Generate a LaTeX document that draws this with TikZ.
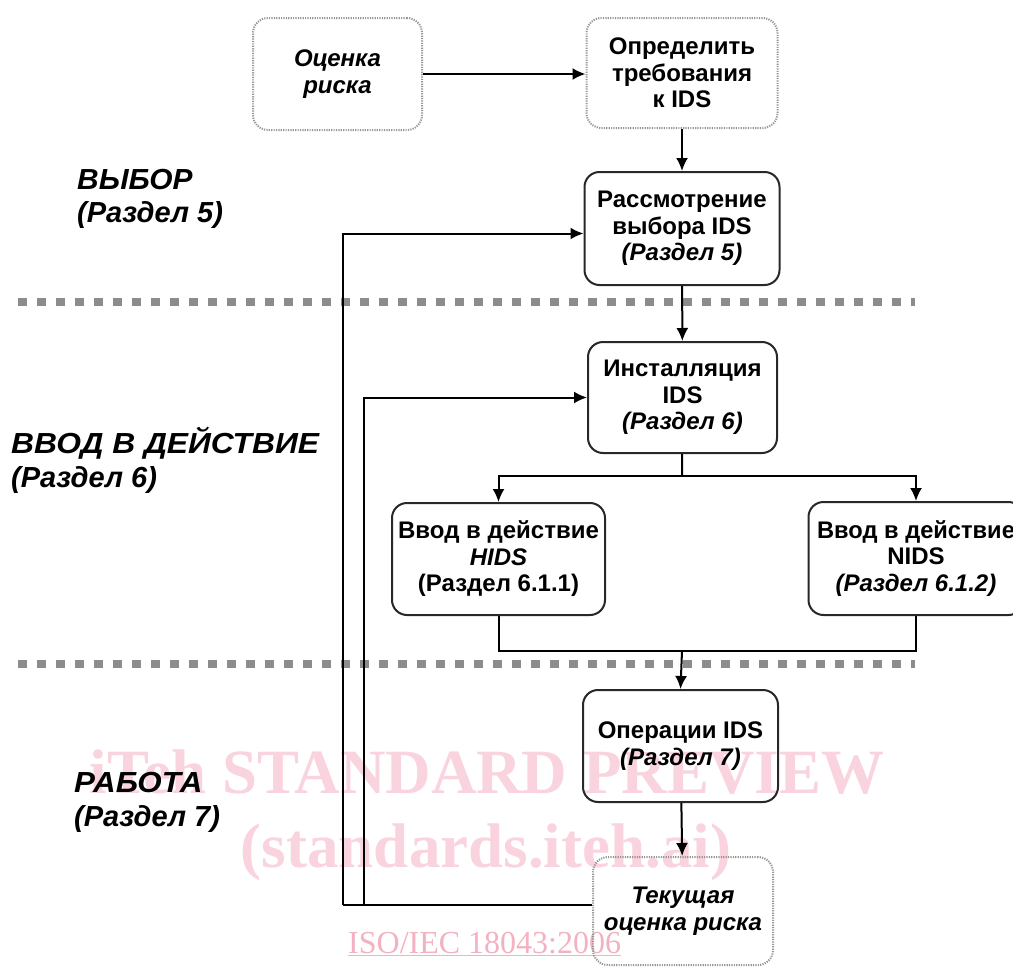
\documentclass[tikz,border=0pt]{standalone}
\usepackage{fontspec}
\setmainfont{Liberation Sans}
\newfontfamily\wmfont{Liberation Serif}
\usetikzlibrary{arrows.meta}
\definecolor{wmpink}{RGB}{249,212,222}
\definecolor{wmpinkb}{RGB}{242,178,194}
\definecolor{sepgray}{RGB}{140,140,140}
\definecolor{boxline}{RGB}{40,40,40}
\definecolor{dotline}{RGB}{150,150,150}
\tikzset{
  boxbase/.style={rounded corners=15pt, align=center, inner sep=0pt,
    font=\fontsize{24}{26.5}\selectfont\bfseries},
  solidbox/.style={boxbase, draw=boxline, line width=2pt},
  dotbox/.style={boxbase, draw=dotline, line width=2pt, dash pattern=on 1.2pt off 1.2pt},
  conn/.style={line width=2pt, black},
  arr/.style={conn, -{Latex[length=13pt,width=12pt]}},
  sepline/.style={line width=8pt, sepgray, dash pattern=on 9pt off 10pt},
  sectlbl/.style={anchor=base west, inner sep=0pt, font=\fontsize{29}{32}\selectfont\bfseries\itshape},
  wmbig/.style={anchor=base, inner sep=0pt, text=wmpink, font=\wmfont\fontsize{63}{70}\selectfont\bfseries},
}
\begin{document}
\begin{tikzpicture}[x=1pt,y=-1pt]
\useasboundingbox (0,0) rectangle (1013,969);
\fill[white] (0,0) rectangle (1013,969);
\clip (0,0) rectangle (1013,969);

% watermark
\node[wmbig] (wm1) at (487,793) {iTeh STANDARD PREVIEW};
\node[wmbig] (wm2) at (486,867) {(standards.iteh.ai)};
\node[anchor=base west, inner sep=0pt, text=wmpinkb, font=\wmfont\fontsize{32}{36}\selectfont] (wm3) at (348,953) {\underline{ISO/IEC 18043:2006}};

% separators
\draw[sepline] (18,302) -- (915,302);
\draw[sepline] (18,664) -- (915,664);

% section labels
\node[sectlbl] (l1a) at (77,189) {\scalebox{1.03}[1]{ВЫБОР}};
\node[sectlbl] (l1b) at (77,222) {(Раздел 5)};
\node[sectlbl] (l2a) at (11,453) {\scalebox{1.095}[1]{ВВОД В ДЕЙСТВИЕ}};
\node[sectlbl] (l2b) at (11,487) {(Раздел 6)};
\node[sectlbl] (l3a) at (74,792) {\scalebox{1.08}[1]{РАБОТА}};
\node[sectlbl] (l3b) at (74,826) {(Раздел 7)};

% boxes
\node[dotbox, minimum width=169pt, minimum height=112pt] (A) at (337.5,74) {\itshape Оценка\\\itshape риска};
\node[dotbox, minimum width=191pt, minimum height=110pt] (B) at (682,73) {Определить\\требования\\к IDS};
\node[solidbox, minimum width=195pt, minimum height=113pt] (C) at (682,228.5) {Рассмотрение\\выбора IDS\\\itshape (Раздел 5)};
\node[solidbox, minimum width=189pt, minimum height=111pt] (D) at (682.5,397.5) {Инсталляция\\IDS\\\itshape (Раздел 6)};
\node[solidbox, minimum width=213pt, minimum height=112pt] (E) at (498.5,559) {Ввод в действие\\\itshape HIDS\\(Раздел 6.1.1)};
\node[solidbox, minimum width=215pt, minimum height=113pt] (F) at (916,558.5) {\scalebox{0.985}[1]{Ввод в действие}\\NIDS\\\itshape (Раздел 6.1.2)};
\node[solidbox, minimum width=195pt, minimum height=112pt] (G) at (680.5,746) {Операции IDS\\\itshape (Раздел 7)};
\node[dotbox, minimum width=180pt, minimum height=108pt] (H) at (683,911) {\itshape Текущая\\\itshape оценка риска};

% junction coordinates
\coordinate (br) at (682,476);
\coordinate (mg) at (682,651);
\coordinate (fa) at (343,905);
\coordinate (fb) at (364,905);

% connectors
\draw[arr] (A.east) -- (A.east -| B.west);
\draw[arr] (B) -- (C);
\draw[arr] (C) -- (D);
\draw[conn] (D) -- (br);
\draw[arr] (br) -| (E.north);
\draw[arr] (br) -| (F.north);
\draw[conn] (E.south) |- (mg);
\draw[conn] (F.south) |- (mg);
\draw[arr] (mg) -- (G.north);
\draw[arr] (G) -- (H);
\draw[conn] ([yshift=6pt]H.west) -- (fa);
\draw[arr] (fa) |- ([yshift=-5pt]C.west);
\draw[arr] (fb) |- (D.west);
\end{tikzpicture}
\end{document}
